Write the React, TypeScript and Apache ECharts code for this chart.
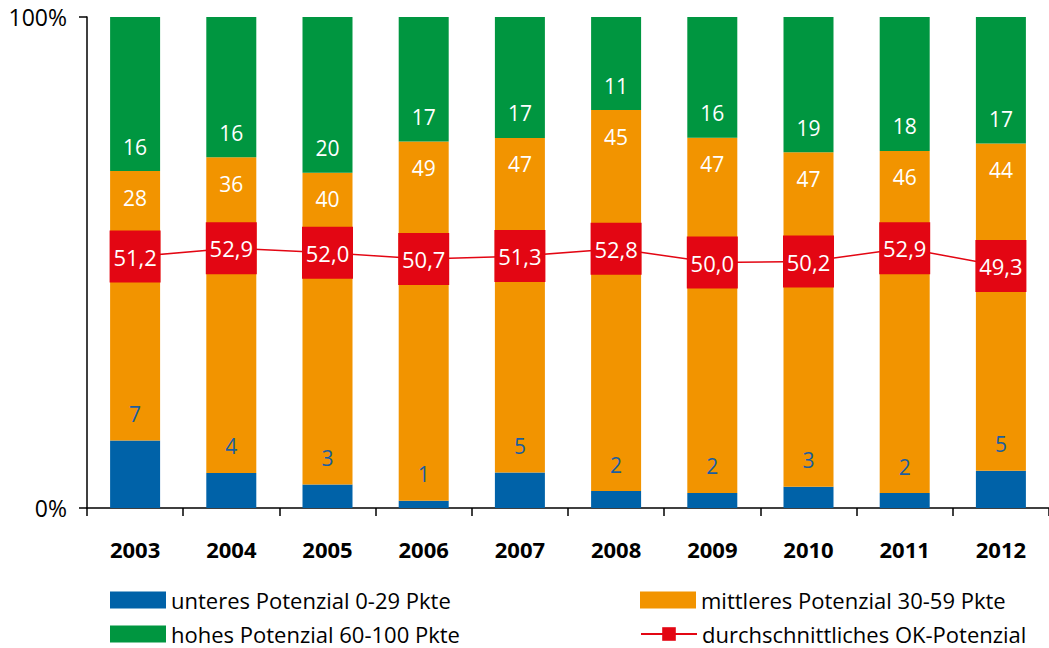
import React, { useEffect, useRef } from "react";
import * as echarts from "echarts";

const years = ["2003", "2004", "2005", "2006", "2007", "2008", "2009", "2010", "2011", "2012"];
const unteres = [7, 4, 3, 1, 5, 2, 2, 3, 2, 5];
const mittleres = [28, 36, 40, 49, 47, 45, 47, 47, 46, 44];
const hohes = [16, 16, 20, 17, 17, 11, 16, 19, 18, 17];
const durchschnitt = [51.2, 52.9, 52.0, 50.7, 51.3, 52.8, 50.0, 50.2, 52.9, 49.3];
const yTicks = [0, 100];

const names = {
  u: "unteres Potenzial 0-29 Pkte",
  m: "mittleres Potenzial 30-59 Pkte",
  h: "hohes Potenzial 60-100 Pkte",
  d: "durchschnittliches OK-Potenzial",
};

const FONT = "'Open Sans', 'Noto Sans', sans-serif";
const BLUE = "#0062A8";
const ORANGE = "#F29400";
const GREEN = "#009640";
const RED = "#E30613";

export default function App() {
  const ref = useRef<HTMLDivElement>(null);
  useEffect(() => {
    document.body.style.margin = "0";
    const chart = echarts.init(ref.current!, null, { renderer: "svg" });
    const totals = years.map((_, i) => unteres[i] + mittleres[i] + hohes[i]);
    const pct = (arr: number[]) => arr.map((v, i) => (v / totals[i]) * 100);
    const legendBase = {
      orient: "vertical" as const,
      padding: 0,
      itemWidth: 56,
      itemHeight: 17,
      itemGap: 7,
      textStyle: { fontFamily: FONT, fontSize: 22, color: "#000", lineHeight: 24 },
      selectedMode: false,
    };
    chart.setOption({
      animation: false,
      textStyle: { fontFamily: FONT },
      grid: { left: 87, right: -5, top: 17, bottom: 140, containLabel: false },
      legend: [
        { ...legendBase, left: 110, top: 588, data: [{ name: names.u, icon: "rect" }] },
        { ...legendBase, left: 110, top: 622, data: [{ name: names.h, icon: "rect" }] },
        { ...legendBase, left: 640, top: 588, data: [{ name: names.m, icon: "rect" }] },
        { ...legendBase, left: 640, top: 622, data: [{ name: names.d }] },
      ],
      xAxis: {
        type: "category",
        data: years,
        axisLine: { lineStyle: { color: "#000", width: 1.5 } },
        axisTick: { show: true, length: 8, lineStyle: { color: "#000", width: 1.5 } },
        axisLabel: { fontFamily: FONT, fontSize: 22, fontWeight: "bold", color: "#000", margin: 30 },
      },
      yAxis: {
        type: "value",
        min: yTicks[0],
        max: yTicks[1],
        interval: 100,
        splitLine: { show: false },
        axisLine: { show: true, lineStyle: { color: "#000", width: 1.5 } },
        axisTick: { show: true, length: 8, inside: false, lineStyle: { color: "#000", width: 1.5 } },
        axisLabel: { fontFamily: FONT, fontSize: 23, color: "#000", margin: 20, formatter: "{value}%" },
      },
      series: [
        {
          name: names.u,
          type: "bar",
          stack: "a",
          barWidth: 50,
          data: pct(unteres),
          itemStyle: { color: BLUE },
          label: {
            show: true,
            position: "top",
            distance: 16,
            color: "#1B5E9F",
            fontFamily: FONT,
            fontSize: 21,
            formatter: (p: any) => String(unteres[p.dataIndex]),
          },
        },
        {
          name: names.m,
          type: "bar",
          stack: "a",
          data: pct(mittleres),
          itemStyle: { color: ORANGE },
          label: {
            show: true,
            position: "insideTop",
            distance: 16,
            color: "#fff",
            fontFamily: FONT,
            fontSize: 21,
            formatter: (p: any) => String(mittleres[p.dataIndex]),
          },
        },
        {
          name: names.h,
          type: "bar",
          stack: "a",
          data: pct(hohes),
          itemStyle: { color: GREEN },
          label: {
            show: true,
            position: "insideBottom",
            distance: 14,
            color: "#fff",
            fontFamily: FONT,
            fontSize: 21,
            formatter: (p: any) => String(hohes[p.dataIndex]),
          },
        },
        {
          name: names.d,
          type: "line",
          data: durchschnitt,
          z: 10,
          symbol: "rect",
          symbolSize: [51, 52],
          lineStyle: { color: RED, width: 1.5 },
          itemStyle: { color: RED },
          label: {
            show: true,
            position: "inside",
            color: "#fff",
            fontFamily: FONT,
            fontSize: 22,
            formatter: (p: any) => p.value.toFixed(1).replace(".", ","),
          },
        },
      ],
    });
    return () => chart.dispose();
  }, []);
  return <div ref={ref} style={{ width: 1049, height: 648 }} />;
}
